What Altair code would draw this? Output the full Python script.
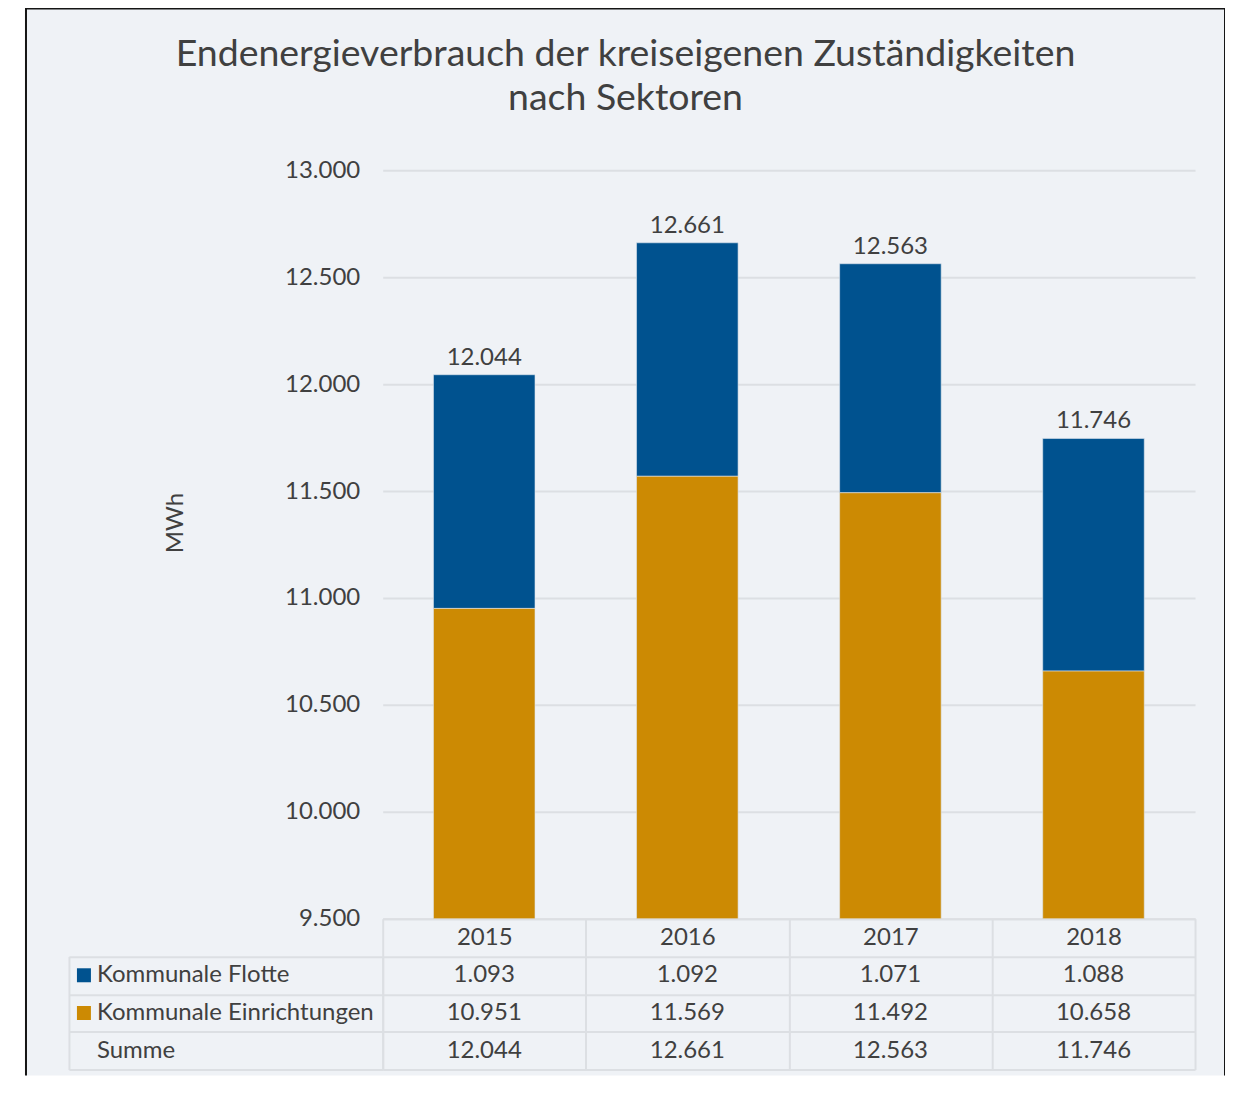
import altair as alt
import pandas as pd

# ---------------- data ----------------
years = ["2015", "2016", "2017", "2018"]
flotte = [1093, 1092, 1071, 1088]
einrichtungen = [10951, 11569, 11492, 10658]
series_names = ["Kommunale Flotte", "Kommunale Einrichtungen"]
sum_label = "Summe"
header_label = "Jahr"
y_ticks = [9500, 10000, 10500, 11000, 11500, 12000, 12500, 13000]
title_lines = ["Endenergieverbrauch der kreiseigenen Zuständigkeiten", "nach Sektoren"]
y_title = "MWh"

# ---------------- style / layout ----------------
W, H = 1200, 1068
PX0, PX1 = 357, 1170          # plot area x-range inside frame
PY_TOP, PY_BOT = 162, 911     # bar y-range inside frame
ROW_H = 37.75
TAB_Y1 = PY_BOT + 4 * ROW_H
LAB_X0 = 43
BLUE, ORANGE = "#00528f", "#cc8a03"
TXT = "#404040"
GRID = "#dcdfe3"
BG = "#eff2f6"
FS = 24


def de(n):
    return f"{n:,}".replace(",", ".")


totals = [a + b for a, b in zip(flotte, einrichtungen)]

bars_df = pd.DataFrame(
    [{"year": y, "series": series_names[0], "value": v, "ord": 2} for y, v in zip(years, flotte)]
    + [{"year": y, "series": series_names[1], "value": v, "ord": 1} for y, v in zip(years, einrichtungen)]
)
totals_df = pd.DataFrame({"year": years, "value": totals, "label": [de(t) for t in totals]})

rows = [header_label, series_names[0], series_names[1], sum_label]
table_records = []
for i, y in enumerate(years):
    table_records.append({"year": y, "row": series_names[0], "label": de(flotte[i])})
    table_records.append({"year": y, "row": series_names[1], "label": de(einrichtungen[i])})
    table_records.append({"year": y, "row": sum_label, "label": de(totals[i])})
table_df = pd.DataFrame(table_records)
label_df = pd.DataFrame({"col": ["label"] * 3, "row": rows[1:]})
legend_df = pd.DataFrame({"col": ["label"] * 2, "row": series_names, "series": series_names})

color = alt.Color(
    "series:N",
    scale=alt.Scale(domain=series_names, range=[BLUE, ORANGE]),
    legend=None,
)

# ---------------- layer A: bars ----------------
xA = alt.X(
    "year:N",
    sort=years,
    scale=alt.Scale(domain=years, range=[PX0, PX1], paddingInner=0.5, paddingOuter=0.25),
    axis=None,
)
yA_axis = alt.Axis(
    values=y_ticks,
    labelExpr="replace(format(datum.value, ','), ',', '.')",
    orient="left",
    offset=-PX0,
    labelPadding=23,
    ticks=False,
    tickSize=0,
    domain=False,
    grid=True,
    gridColor=GRID,
    gridWidth=2,
    labelFontSize=FS,
    labelColor=TXT,
    title=y_title,
    titleX=-207.5,
    titleY=514.5,
    titleAngle=270,
    titleBaseline="middle",
    titleAlign="center",
    titleFontSize=FS,
    titleFontWeight="normal",
    titleColor=TXT,
)
yA_scale = alt.Scale(domain=[9500, 13000], range=[PY_BOT, PY_TOP], clamp=True, nice=False, zero=False)

bars = alt.Chart(bars_df).mark_bar(stroke="#dfe6ee", strokeWidth=0.6).encode(
    x=xA,
    y=alt.Y("value:Q", stack="zero", scale=yA_scale, axis=yA_axis),
    color=color,
    order=alt.Order("ord:Q"),
)
tot_text = alt.Chart(totals_df).mark_text(
    baseline="alphabetic", dy=-10, fontSize=FS, color=TXT
).encode(
    x=xA,
    y=alt.Y("value:Q", stack=None, scale=yA_scale, axis=yA_axis),
    text="label:N",
)
layerA = alt.layer(bars, tot_text)

# ---------------- layer B: table value columns ----------------
xB = alt.X(
    "year:N",
    sort=years,
    scale=alt.Scale(domain=years, range=[PX0, PX1], paddingInner=0, paddingOuter=0),
    axis=alt.Axis(
        orient="top",
        offset=-(PY_BOT + ROW_H),
        grid=True,
        tickBand="extent",
        ticks=False,
        tickSize=0,
        domain=False,
        labelPadding=19,
        labelBaseline="middle",
        labelAngle=0,
        labelFontSize=FS,
        labelColor=TXT,
        title=None,
        gridColor=GRID,
        gridWidth=2,
    ),
)
yB = alt.Y(
    "row:N",
    scale=alt.Scale(domain=rows, range=[PY_BOT, TAB_Y1], paddingInner=0, paddingOuter=0),
    axis=alt.Axis(
        orient="left",
        offset=-PX0,
        grid=True,
        tickBand="extent",
        ticks=False,
        tickSize=0,
        labels=False,
        domain=False,
        title=None,
        gridColor=GRID,
        gridWidth=2,
    ),
)
layerB = alt.Chart(table_df).mark_text(fontSize=FS, color=TXT, baseline="middle").encode(
    x=xB, y=yB, text="label:N"
)

# ---------------- layer C: row label column ----------------
xC_axis = alt.Axis(
    orient="top",
    grid=True,
    tickBand="extent",
    ticks=False,
    tickSize=0,
    labels=False,
    domain=False,
    title=None,
    gridColor=GRID,
    gridWidth=2,
)
yC_axis = alt.Axis(
    orient="left",
    grid=True,
    tickBand="extent",
    ticks=False,
    tickSize=0,
    labels=False,
    domain=False,
    title=None,
    gridColor=GRID,
    gridWidth=2,
)
xC_scale = alt.Scale(domain=["label"], range=[LAB_X0, PX0], paddingInner=0, paddingOuter=0)
yC_scale = alt.Scale(domain=rows[1:], range=[PY_BOT + ROW_H, TAB_Y1], paddingInner=0, paddingOuter=0)

lab_text = alt.Chart(label_df).mark_text(
    align="left", baseline="middle", dx=28, fontSize=FS, color=TXT
).encode(
    x=alt.X("col:N", bandPosition=0, scale=xC_scale, axis=xC_axis),
    y=alt.Y("row:N", scale=yC_scale, axis=yC_axis),
    text="row:N",
)
lab_sq = alt.Chart(legend_df).mark_point(
    shape="square", filled=True, size=196, opacity=1, strokeWidth=0, xOffset=15
).encode(
    x=alt.X("col:N", bandPosition=0, scale=xC_scale, axis=xC_axis),
    y=alt.Y("row:N", scale=yC_scale, axis=yC_axis),
    color=color,
)
layerC = alt.layer(lab_text, lab_sq)

chart = (
    alt.layer(layerA, layerB, layerC)
    .resolve_scale(x="independent", y="independent")
    .properties(
        width=W,
        height=H,
        background="white",
        padding={"left": 18, "top": 0, "right": 0, "bottom": 0},
        title=alt.TitleParams(
            text=title_lines,
            fontSize=37.5,
            font="Lato",
            fontWeight="normal",
            color=TXT,
            anchor="middle",
            frame="group",
            offset=-139,
            baseline="alphabetic",
            lineHeight=44,
        ),
    )
    .configure(font="Lato")
    .configure_view(
        stroke="#151515",
        strokeWidth=2,
        fill=BG,
        strokeDash=[W + H, W, H],
    )
)

chart.save("out.html", embed_options={"renderer": "svg", "actions": False})
